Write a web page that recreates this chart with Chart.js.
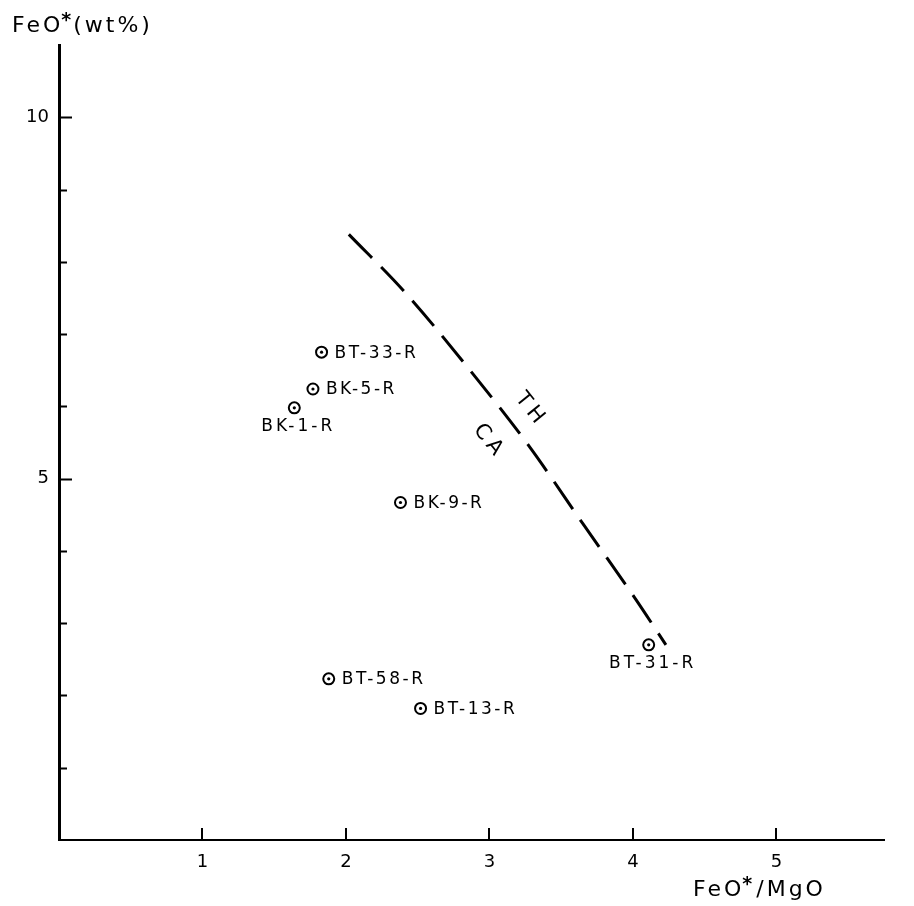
<!DOCTYPE html>
<html>
<head>
<meta charset="utf-8">
<script src="https://cdn.jsdelivr.net/npm/chart.js@4/dist/chart.umd.min.js"></script>
<style>
  html, body { margin: 0; padding: 0; background: #fff; }
  #wrap { width: 914px; height: 906px; }
</style>
</head>
<body>
<div id="wrap"><canvas id="myChart" width="914" height="906"></canvas></div>
<script>
// samples (FeO*/MgO, FeO* wt%)
const sampleNames = ['BT-33-R', 'BK-5-R', 'BK-1-R', 'BK-9-R', 'BT-58-R', 'BT-13-R', 'BT-31-R'];
const sampleRatio = [1.83, 1.77, 1.64, 2.38, 1.88, 2.52, 4.11];
const sampleFeO = [6.75, 6.24, 5.98, 4.67, 2.23, 1.82, 2.70];

// TH / CA dividing line
const boundaryRatio = [2.02, 2.41, 2.84, 3.28, 3.65, 4.02, 4.23];
const boundaryFeO = [8.38, 7.58, 6.56, 5.44, 4.38, 3.33, 2.70];

// field names and where they sit
const fieldNames = ['TH', 'CA'];
const fieldRatio = [3.29, 3.00];
const fieldFeO = [5.95, 5.51];

const xTickLabels = [1, 2, 3, 4, 5];
const yTickLabels = [5, 10];

const FONT = '"DejaVu Sans", sans-serif';

const samplePoints = sampleRatio.map((x, i) => ({ x: x, y: sampleFeO[i] }));
const boundaryPoints = boundaryRatio.map((x, i) => ({ x: x, y: boundaryFeO[i] }));

// names that are written under their circle instead of to the right
const labelBelow = ['BK-1-R', 'BT-31-R'];

const drawSpaced = (ctx, text, x, y, spacing) => {
  ctx.letterSpacing = spacing + 'px';
  ctx.fillText(text, x, y);
  ctx.letterSpacing = '0px';
};

const annotations = {
  id: 'annotations',
  afterDraw(chart) {
    const ctx = chart.ctx;
    const xs = chart.scales.x;
    const ys = chart.scales.y;
    const area = chart.chartArea;
    ctx.save();
    ctx.strokeStyle = '#000';
    ctx.fillStyle = '#000';

    // inward tick marks
    ctx.lineWidth = 2;
    ctx.beginPath();
    for (let v = 1; v <= 10; v++) {
      const py = Math.round(ys.getPixelForValue(v)) + 0.5;
      const len = (v % 5 === 0) ? 13 : 8;
      ctx.moveTo(area.left, py);
      ctx.lineTo(area.left + len, py);
    }
    xTickLabels.forEach((v) => {
      const px = Math.round(xs.getPixelForValue(v));
      ctx.moveTo(px, area.bottom);
      ctx.lineTo(px, area.bottom - 12);
    });
    ctx.stroke();

    // sample names
    ctx.font = '17px ' + FONT;
    ctx.textBaseline = 'middle';
    const meta = chart.getDatasetMeta(0);
    meta.data.forEach((pt, i) => {
      const name = sampleNames[i];
      if (labelBelow.includes(name)) {
        ctx.textAlign = 'center';
        drawSpaced(ctx, name, pt.x + 4, pt.y + 19, 3);
      } else {
        ctx.textAlign = 'left';
        drawSpaced(ctx, name, pt.x + 13, pt.y + 1, 2.5);
      }
    });

    // field names along the line
    ctx.font = '21px ' + FONT;
    ctx.textAlign = 'center';
    fieldNames.forEach((name, i) => {
      const px = xs.getPixelForValue(fieldRatio[i]);
      const py = ys.getPixelForValue(fieldFeO[i]);
      ctx.save();
      ctx.translate(px, py);
      ctx.rotate(51 * Math.PI / 180);
      drawSpaced(ctx, name, 0, 0, 5);
      ctx.restore();
    });

    // axis titles
    const title = (x, y) => {
      ctx.font = '22px ' + FONT;
      ctx.textAlign = 'left';
      ctx.textBaseline = 'alphabetic';
      ctx.letterSpacing = '3px';
      ctx.fillText('FeO', x, y);
      let w = ctx.measureText('FeO').width;
      ctx.font = 'bold 19px ' + FONT;
      ctx.letterSpacing = '0px';
      ctx.fillText('*', x + w - 2, y - 6);
      w += ctx.measureText('*').width;
      return x + w;
    };
    let endX = title(12, 32);
    ctx.font = '22px ' + FONT;
    ctx.letterSpacing = '3px';
    ctx.fillText('(wt%)', endX, 32);

    endX = title(693, 896);
    ctx.font = '22px ' + FONT;
    ctx.letterSpacing = '3px';
    ctx.fillText('/MgO', endX + 2, 896);
    ctx.letterSpacing = '0px';

    ctx.restore();
  }
};

const chart = new Chart(document.getElementById('myChart'), {
  type: 'scatter',
  data: {
    datasets: [
      {
        label: 'Samples',
        data: samplePoints,
        order: 1,
        pointStyle: 'circle',
        pointRadius: 5.5,
        pointBorderWidth: 2,
        pointBackgroundColor: '#fff',
        pointBorderColor: '#000',
      },
      {
        label: 'Sample centres',
        data: samplePoints,
        order: 0,
        pointRadius: 1.6,
        pointBorderWidth: 0,
        pointBackgroundColor: '#000',
      },
      {
        label: 'TH / CA',
        data: boundaryPoints,
        order: 2,
        showLine: true,
        borderColor: '#000',
        borderWidth: 3,
        borderDash: [33, 13],
        cubicInterpolationMode: 'monotone',
        pointRadius: 0,
      },
    ],
  },
  options: {
    responsive: false,
    animation: false,
    layout: { padding: { top: 45, right: 30, left: 0, bottom: 0 } },
    plugins: {
      legend: { display: false },
      tooltip: { enabled: false },
    },
    scales: {
      x: {
        type: 'linear',
        min: 0,
        max: 5.75,
        border: { display: true, color: '#000', width: 2 },
        grid: { display: true, drawOnChartArea: false, drawTicks: false, color: 'rgba(0,0,0,0)' },
        ticks: {
          stepSize: 1,
          padding: 12,
          color: '#000',
          font: { family: FONT, size: 18 },
          maxRotation: 0,
          callback: (v) => (xTickLabels.includes(v) ? String(v) : ''),
        },
        afterFit: (scale) => { scale.height = 66; },
      },
      y: {
        type: 'linear',
        min: 0,
        max: 11,
        border: { display: true, color: '#000', width: 3 },
        grid: { display: true, drawOnChartArea: false, drawTicks: false, color: 'rgba(0,0,0,0)' },
        ticks: {
          stepSize: 1,
          padding: 10,
          color: '#000',
          font: { family: FONT, size: 18 },
          callback: (v) => (yTickLabels.includes(v) ? String(v) : ''),
        },
        afterFit: (scale) => { scale.width = 59; },
      },
    },
  },
  plugins: [annotations],
});
</script>
</body>
</html>
